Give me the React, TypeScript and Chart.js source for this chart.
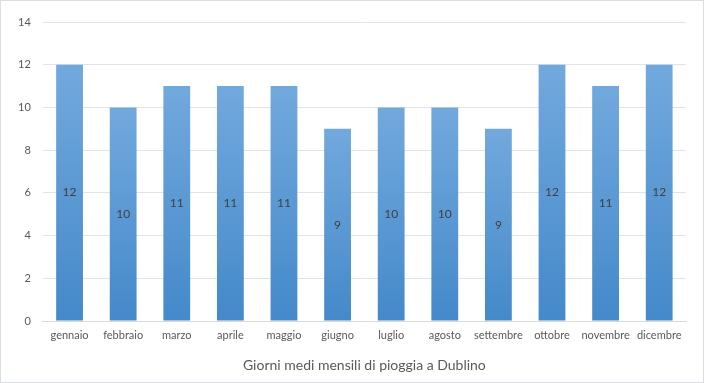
import React, { useEffect, useRef } from "react";
import { Chart, registerables } from "chart.js";

Chart.register(...registerables);

const months = ["gennaio", "febbraio", "marzo", "aprile", "maggio", "giugno", "luglio", "agosto", "settembre", "ottobre", "novembre", "dicembre"];
const rainyDays = [12, 10, 11, 11, 11, 9, 10, 10, 9, 12, 11, 12];
const yTicks = [0, 2, 4, 6, 8, 10, 12, 14];
const axisTitle = "Giorni medi mensili di pioggia a Dublino";

const FONT = "Lato, 'Open Sans', sans-serif";

const labelPlugin = {
  id: "midLabels",
  afterDatasetsDraw(chart: any) {
    const ctx = chart.ctx;
    const meta = chart.getDatasetMeta(0);
    ctx.save();
    ctx.font = `12px ${FONT}`;
    ctx.fillStyle = "#404040";
    ctx.textAlign = "center";
    ctx.textBaseline = "middle";
    meta.data.forEach((el: any, i: number) => {
      const v = chart.data.datasets[0].data[i];
      ctx.fillText(String(v), el.x, (el.y + el.base) / 2);
    });
    ctx.restore();
  },
};

export default function App() {
  const ref = useRef<HTMLCanvasElement>(null);
  useEffect(() => {
    document.body.style.margin = "0";
    const canvas = ref.current!;
    const chart = new Chart(canvas, {
      type: "bar",
      data: {
        labels: months,
        datasets: [
          {
            data: rainyDays,
            backgroundColor: (c: any) => {
              const ch = c.chart;
              const ys = ch.scales && ch.scales.y;
              if (!ys || c.raw == null) return "#5B9BD5";
              const top = ys.getPixelForValue(c.raw);
              const base = ys.getPixelForValue(0);
              if (!isFinite(top) || !isFinite(base)) return "#5B9BD5";
              const g = ch.ctx.createLinearGradient(0, top, 0, base);
              g.addColorStop(0, "#72A9DD");
              g.addColorStop(1, "#4489CA");
              return g;
            },
            borderWidth: 0,
            barPercentage: 0.5,
            categoryPercentage: 1,
          },
        ],
      },
      options: {
        animation: false,
        responsive: false,
        maintainAspectRatio: false,
        layout: { padding: { left: 5, right: 17, top: 21, bottom: 8 } },
        plugins: { legend: { display: false }, tooltip: { enabled: false } },
        scales: {
          x: {
            grid: { display: false, drawTicks: false },
            border: { display: true, color: "#D9D9D9" },
            ticks: { color: "#595959", font: { family: FONT, size: 11 }, padding: 8, maxRotation: 0, autoSkip: false },
            title: { display: true, text: axisTitle, color: "#595959", font: { family: FONT, size: 14 }, padding: { top: 7, bottom: 0 } },
          },
          y: {
            min: 0,
            max: 14,
            afterBuildTicks: (s: any) => {
              s.ticks = yTicks.map((v) => ({ value: v }));
            },
            grid: { color: "#E0E3E7", drawTicks: false },
            border: { display: false },
            ticks: { color: "#595959", font: { family: FONT, size: 11 }, padding: 12 },
          },
        },
      },
      plugins: [labelPlugin],
    });
    return () => chart.destroy();
  }, []);
  return (
    <div style={{ position: "absolute", left: 0, top: 0, width: 704, height: 383, boxSizing: "border-box", border: "1px solid #D9DEE5", background: "#fff" }}>
      <canvas ref={ref} width={702} height={381} style={{ display: "block" }} />
    </div>
  );
}
